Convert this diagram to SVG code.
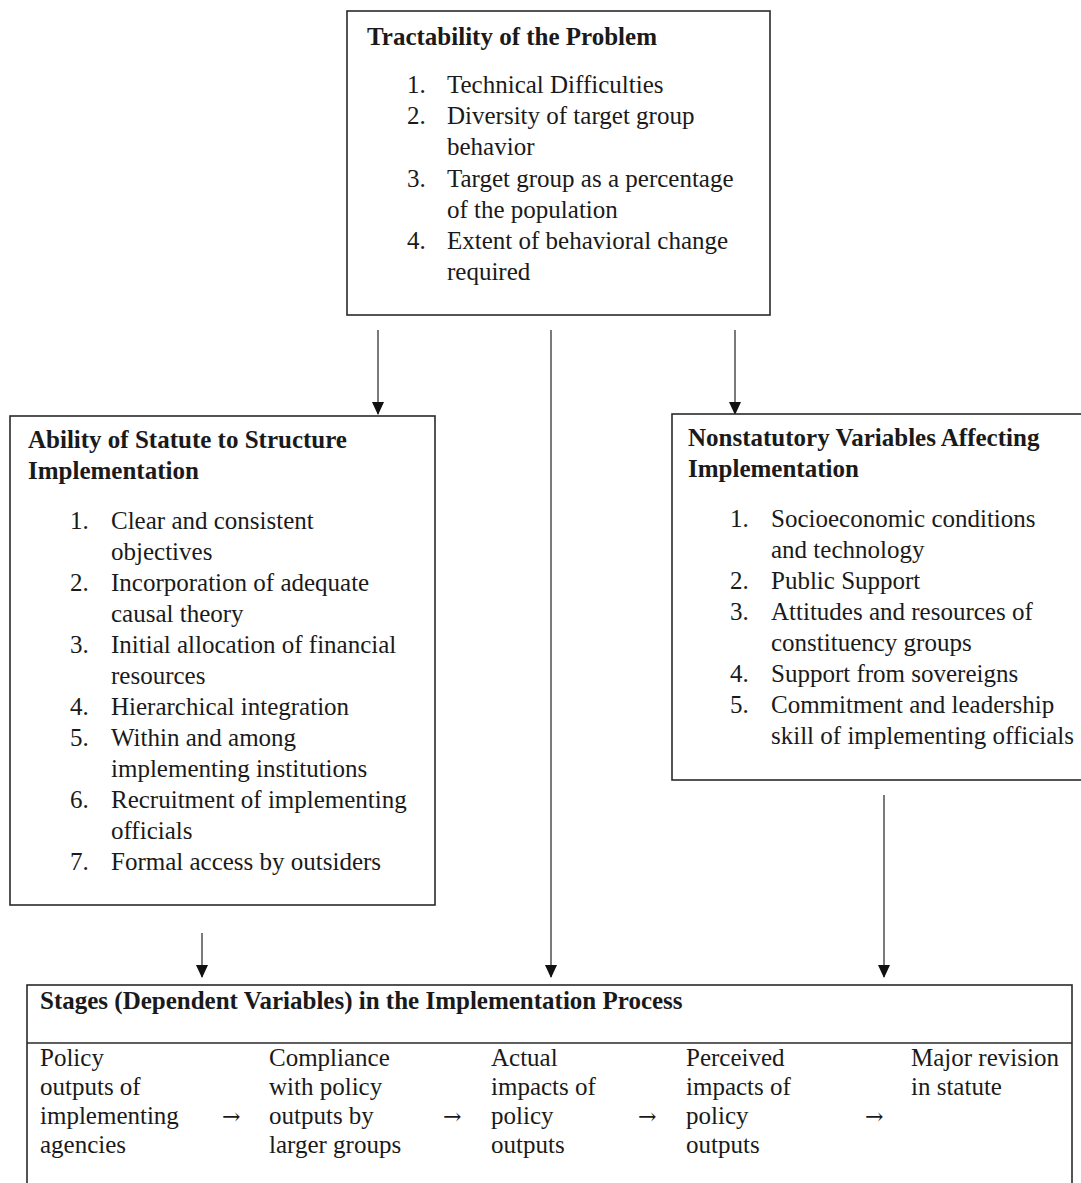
<svg xmlns="http://www.w3.org/2000/svg" width="1081" height="1183" viewBox="0 0 1081 1183">
<style>
.box{fill:#fff;stroke:#2a2a2a;stroke-width:1.6}
.t{font-family:"Liberation Serif","Times New Roman",serif;font-size:25px;fill:#1a1a1a}
.b{font-weight:bold}
.arr{font-family:"DejaVu Serif","Liberation Serif",serif;font-size:22px;fill:#1a1a1a}
.conn{stroke:#333;stroke-width:1.3;fill:none;marker-end:url(#ah)}
</style>
<defs>
<marker id="ah" markerUnits="userSpaceOnUse" markerWidth="14" markerHeight="14" viewBox="0 0 14 14" refX="12" refY="7" orient="auto">
<path d="M0,1 L13,7 L0,13 Z" fill="#111"/>
</marker>
</defs>
<rect width="1081" height="1183" fill="#fff"/>
<g id="connectors">
<line class="conn" x1="378" y1="330" x2="378" y2="414"/>
<line class="conn" x1="735" y1="330" x2="735" y2="414"/>
<line class="conn" x1="551" y1="330" x2="551" y2="977"/>
<line class="conn" x1="202" y1="933" x2="202" y2="977"/>
<line class="conn" x1="884" y1="795" x2="884" y2="977"/>
</g>
<g id="tractability">
<rect class="box" x="347" y="11" width="423" height="304"/>
<text class="t b" x="367" y="45">Tractability of the Problem</text>
<text class="t" x="407" y="93">1.</text><text class="t" x="447" y="93">Technical Difficulties</text>
<text class="t" x="407" y="124">2.</text><text class="t" x="447" y="124">Diversity of target group</text>
<text class="t" x="447" y="155">behavior</text>
<text class="t" x="407" y="187">3.</text><text class="t" x="447" y="187">Target group as a percentage</text>
<text class="t" x="447" y="218">of the population</text>
<text class="t" x="407" y="249">4.</text><text class="t" x="447" y="249">Extent of behavioral change</text>
<text class="t" x="447" y="280">required</text>
</g>
<g id="statute">
<rect class="box" x="10" y="416" width="425" height="489"/>
<text class="t b" x="28" y="448">Ability of Statute to Structure</text>
<text class="t b" x="28" y="479">Implementation</text>
<text class="t" x="70" y="529">1.</text><text class="t" x="111" y="529">Clear and consistent</text>
<text class="t" x="111" y="560">objectives</text>
<text class="t" x="70" y="591">2.</text><text class="t" x="111" y="591">Incorporation of adequate</text>
<text class="t" x="111" y="622">causal theory</text>
<text class="t" x="70" y="653">3.</text><text class="t" x="111" y="653">Initial allocation of financial</text>
<text class="t" x="111" y="684">resources</text>
<text class="t" x="70" y="715">4.</text><text class="t" x="111" y="715">Hierarchical integration</text>
<text class="t" x="70" y="746">5.</text><text class="t" x="111" y="746">Within and among</text>
<text class="t" x="111" y="777">implementing institutions</text>
<text class="t" x="70" y="808">6.</text><text class="t" x="111" y="808">Recruitment of implementing</text>
<text class="t" x="111" y="839">officials</text>
<text class="t" x="70" y="870">7.</text><text class="t" x="111" y="870">Formal access by outsiders</text>
</g>
<g id="nonstatutory">
<rect class="box" x="672" y="414" width="412" height="366"/>
<text class="t b" x="688" y="446">Nonstatutory Variables Affecting</text>
<text class="t b" x="688" y="477">Implementation</text>
<text class="t" x="730" y="527">1.</text><text class="t" x="771" y="527">Socioeconomic conditions</text>
<text class="t" x="771" y="558">and technology</text>
<text class="t" x="730" y="589">2.</text><text class="t" x="771" y="589">Public Support</text>
<text class="t" x="730" y="620">3.</text><text class="t" x="771" y="620">Attitudes and resources of</text>
<text class="t" x="771" y="651">constituency groups</text>
<text class="t" x="730" y="682">4.</text><text class="t" x="771" y="682">Support from sovereigns</text>
<text class="t" x="730" y="713">5.</text><text class="t" x="771" y="713">Commitment and leadership</text>
<text class="t" x="771" y="744">skill of implementing officials</text>
</g>
<g id="stages">
<rect class="box" x="27" y="985" width="1045" height="230"/>
<line x1="27" y1="1043" x2="1072" y2="1043" stroke="#2a2a2a" stroke-width="1.6"/>
<text class="t b" x="40" y="1009">Stages (Dependent Variables) in the Implementation Process</text>
<text class="t" x="40" y="1066">Policy</text>
<text class="t" x="40" y="1095">outputs of</text>
<text class="t" x="40" y="1124">implementing</text>
<text class="t" x="40" y="1153">agencies</text>
<text class="arr" x="222" y="1124">→</text>
<text class="t" x="269" y="1066">Compliance</text>
<text class="t" x="269" y="1095">with policy</text>
<text class="t" x="269" y="1124">outputs by</text>
<text class="t" x="269" y="1153">larger groups</text>
<text class="arr" x="443" y="1124">→</text>
<text class="t" x="491" y="1066">Actual</text>
<text class="t" x="491" y="1095">impacts of</text>
<text class="t" x="491" y="1124">policy</text>
<text class="t" x="491" y="1153">outputs</text>
<text class="arr" x="638" y="1124">→</text>
<text class="t" x="686" y="1066">Perceived</text>
<text class="t" x="686" y="1095">impacts of</text>
<text class="t" x="686" y="1124">policy</text>
<text class="t" x="686" y="1153">outputs</text>
<text class="arr" x="865" y="1124">→</text>
<text class="t" x="911" y="1066">Major revision</text>
<text class="t" x="911" y="1095">in statute</text>
</g>
</svg>
